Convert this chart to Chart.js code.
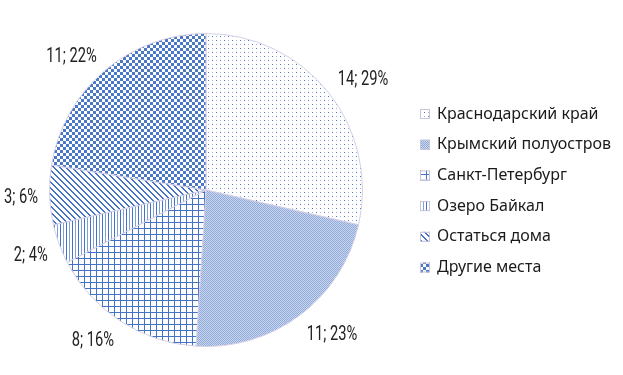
<!DOCTYPE html>
<html>
<head>
<meta charset="utf-8">
<script src="https://cdn.jsdelivr.net/npm/chart.js@4/dist/chart.umd.min.js"></script>
<style>
  html,body{margin:0;padding:0;background:#fff;}
  #wrap{width:623px;height:375px;}
</style>
</head>
<body>
<div id="wrap"><canvas id="c" width="623" height="375"></canvas></div>
<script>
/* données */
const places  = ['Краснодарский край','Крымский полуостров','Санкт-Петербург','Озеро Байкал','Остаться дома','Другие места'];
const counts  = [14, 11, 8, 2, 3, 11];
const percent = ['29%', '23%', '16%', '4%', '6%', '22%'];

/* motifs (style Excel) */
const blue = '#4472C4', blueL = '#A5BBE3';
const mkPattern = (w, h, draw) => {
  const cv = document.createElement('canvas');
  cv.width = w; cv.height = h;
  const g = cv.getContext('2d');
  g.fillStyle = '#fff'; g.fillRect(0, 0, w, h);
  draw(g);
  return g.createPattern(cv, 'repeat');
};
const dots = mkPattern(8, 8, g => {
  g.fillStyle = blue;  g.fillRect(0, 0, 1, 1); g.fillRect(4, 4, 1, 1);
  g.fillStyle = blueL; g.fillRect(4, 0, 1, 1); g.fillRect(0, 4, 1, 1);
});
const fine = mkPattern(2, 2, g => {
  g.fillStyle = '#CAD7EF'; g.fillRect(0, 0, 2, 2);
  g.fillStyle = '#8FA9D9'; g.fillRect(0, 0, 1, 1); g.fillRect(1, 1, 1, 1);
});
const grid = mkPattern(6, 6, g => {
  g.fillStyle = blue; g.fillRect(0, 0, 6, 1); g.fillRect(0, 0, 1, 6);
});
const vert = mkPattern(6, 1, g => {
  g.fillStyle = blue;    g.fillRect(0, 0, 1, 1);
  g.fillStyle = '#7E9FD8'; g.fillRect(3, 0, 1, 1);
});
const diag = mkPattern(6, 6, g => {
  g.fillStyle = blue;
  for (let i = 0; i < 6; i++) { g.fillRect(i, i, 1, 1); g.fillRect((i + 1) % 6, i, 1, 1); }
});
const checker = mkPattern(6, 6, g => {
  g.fillStyle = '#4A78C6'; g.fillRect(0, 0, 3, 3); g.fillRect(3, 3, 3, 3);
});
const fills = [dots, fine, grid, vert, diag, checker];

/* étiquettes autour du camembert (police étroite simulée) */
const clamp = v => Math.max(-1, Math.min(1, v));
const sliceLabels = {
  id: 'sliceLabels',
  afterDatasetsDraw(chart) {
    const ctx = chart.ctx;
    const arcs = chart.getDatasetMeta(0).data;
    const sx = 0.7, h = 15;
    ctx.save();
    ctx.font = '21px Roboto, "DejaVu Sans", sans-serif';
    ctx.fillStyle = '#222';
    ctx.textAlign = 'left';
    ctx.textBaseline = 'alphabetic';
    arcs.forEach((a, i) => {
      const mid = (a.startAngle + a.endAngle) / 2;
      const dx = Math.cos(mid), dy = Math.sin(mid);
      const ax = a.x + dx * (a.outerRadius + 12);
      const ay = a.y + dy * (a.outerRadius + 12);
      const txt = `${counts[i]}; ${percent[i]}`;
      const w = ctx.measureText(txt).width * sx;
      let left = ax - w / 2 + (w / 2) * clamp(dx * 2);
      const top = ay - h / 2 + (h / 2) * clamp(dy * 2);
      left = Math.max(4, Math.min(chart.width - 4 - w, left));
      ctx.save();
      ctx.translate(left, top + h);
      ctx.scale(sx, 1);
      ctx.fillText(txt, 0, 0);
      ctx.restore();
    });
    ctx.restore();
  }
};

/* légende à droite */
const sideLegend = {
  id: 'sideLegend',
  afterDraw(chart) {
    const ctx = chart.ctx;
    ctx.save();
    ctx.font = '16px "Noto Sans", sans-serif';
    ctx.textBaseline = 'middle';
    places.forEach((p, i) => {
      const y = 114 + i * 30.7;
      ctx.fillStyle = fills[i];
      ctx.fillRect(420, y - 5, 10, 10);
      ctx.strokeStyle = '#C9C3DC'; ctx.lineWidth = 1;
      ctx.strokeRect(420.5, y - 4.5, 9, 9);
      ctx.fillStyle = '#1a1a1a';
      ctx.fillText(p, 437, y, 177);
    });
    ctx.restore();
  }
};

new Chart(document.getElementById('c'), {
  type: 'pie',
  data: {
    labels: places,
    datasets: [{
      data: counts,
      backgroundColor: fills,
      borderColor: '#D6D0E6',
      borderWidth: 1
    }]
  },
  plugins: [sliceLabels, sideLegend],
  options: {
    responsive: false,
    animation: false,
    layout: { padding: { left: 49, right: 260, top: 33, bottom: 28 } },
    plugins: { legend: { display: false }, tooltip: { enabled: false } }
  }
});
</script>
</body>
</html>
